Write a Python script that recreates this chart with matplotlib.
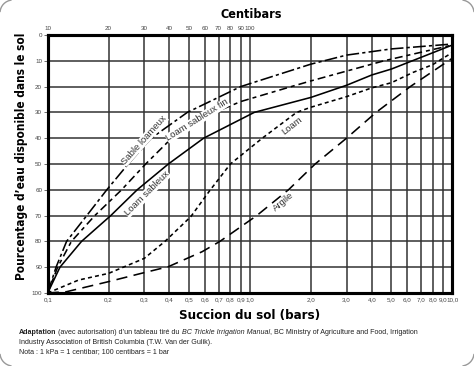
import matplotlib.pyplot as plt
from matplotlib.patches import Arc
from matplotlib.ticker import NullLocator

plt.rcParams['font.family'] = ['Liberation Sans', 'DejaVu Sans']

# Curves: soil suction (bars) vs % available water
sable_x = [0.1, 0.11, 0.124, 0.156, 0.196, 0.25, 0.325, 0.49, 0.9, 2.0, 3.0, 5.0, 10.0]
sable_y = [100, 90, 80, 70, 60, 50, 40, 30, 20, 11.3, 7.8, 5.4, 3.5]

fin_x = [0.1, 0.112, 0.131, 0.171, 0.232, 0.305, 0.41, 0.67, 0.9, 1.6, 2.0, 3.0, 4.6, 10.0]
fin_y = [100, 90, 80, 70, 60, 50, 40, 30, 25.8, 20, 17.8, 14, 10, 3.9]

lsab_x = [0.1, 0.115, 0.147, 0.205, 0.277, 0.395, 0.59, 1.05, 2.0, 3.0, 4.0, 5.0, 10.0]
lsab_y = [100, 90, 80, 70, 60, 50, 40, 30, 24.2, 19.5, 15.5, 13.2, 3.9]

loam_x = [0.1, 0.142, 0.2, 0.3, 0.38, 0.51, 0.63, 0.8, 1.15, 1.7, 2.0, 3.0, 4.0, 5.0, 6.4, 8.0, 10.0]
loam_y = [100, 95, 92.4, 86.6, 80, 70.4, 60.5, 50, 40, 30, 28, 23.9, 20.5, 18.5, 14.5, 11.5, 6.8]

argile_x = [0.1, 0.124, 0.2, 0.29, 0.395, 0.58, 0.71, 1.08, 1.55, 2.1, 3.0, 4.2, 6.2, 10.0]
argile_y = [100, 99.5, 95.6, 92.4, 89.8, 84, 80, 70, 60, 50, 40, 30, 20, 9]

bar_ticks = [0.1, 0.2, 0.3, 0.4, 0.5, 0.6, 0.7, 0.8, 0.9, 1.0, 2.0, 3.0, 4.0, 5.0, 6.0, 7.0, 8.0, 9.0, 10.0]
bar_labels = ['0,1', '0,2', '0,3', '0,4', '0,5', '0,6', '0,7', '0,8', '0,9', '1,0',
              '2,0', '3,0', '4,0', '5,0', '6,0', '7,0', '8,0', '9,0', '10,0']
centibars = [10, 20, 30, 40, 50, 60, 70, 80, 90, 100]
pct_ticks = [0, 10, 20, 30, 40, 50, 60, 70, 80, 90, 100]

fig = plt.figure(figsize=(4.74, 3.66), dpi=100)
ax = fig.add_axes([0.1006, 0.1995, 0.8536, 0.7049])

ax.set_xscale('log')
ax.set_xlim(0.1, 10)
ax.set_ylim(100, 0)
ax.set_axisbelow(True)
ax.grid(True, color='#333333', lw=1.1)

lw = 1.15
ax.plot(sable_x, sable_y, color='black', lw=lw, linestyle=(0, (8, 2, 2, 2)))
ax.plot(fin_x, fin_y, color='black', lw=lw, linestyle=(0, (5, 2.5, 2.5, 2.5)))
ax.plot(lsab_x, lsab_y, color='black', lw=lw)
ax.plot(loam_x, loam_y, color='black', lw=lw, linestyle=(0, (2.5, 2)))
ax.plot(argile_x, argile_y, color='black', lw=lw, linestyle=(0, (7, 4)))

ax.set_xticks(bar_ticks)
ax.set_xticklabels(bar_labels)
ax.xaxis.set_minor_locator(NullLocator())
ax.set_yticks(pct_ticks)
ax.tick_params(axis='x', length=0, labelsize=4.5, labelcolor='#444444', pad=3)
ax.tick_params(axis='y', length=3, width=0.6, color='#555555', labelsize=4.5, labelcolor='#444444', pad=1)
for s in ax.spines.values():
    s.set_linewidth(2.2)

top = ax.twiny()
top.set_xscale('log')
top.set_xlim(10, 1000)
top.set_xticks(centibars)
top.set_xticklabels([str(c) for c in centibars])
top.xaxis.set_minor_locator(NullLocator())
top.tick_params(axis='x', length=0, labelsize=4.5, labelcolor='#444444', pad=3)
for s in top.spines.values():
    s.set_linewidth(2.2)

# curve names
lab = dict(fontsize=6.8, color='#333333', ha='center', va='center', rotation_mode='anchor',
           bbox=dict(facecolor='white', edgecolor='none', pad=0.3))
ax.text(0.30, 40.7, 'Sable loameux', rotation=48, **lab)
ax.text(0.55, 33, 'Loam sableux fin', rotation=32, **lab)
ax.text(0.31, 61.5, 'Loam sableux', rotation=45, **lab)
ax.text(1.62, 35.3, 'Loam', rotation=38, **lab)
ax.text(1.46, 64.7, 'Argile', rotation=40, **lab)

bold = dict(ha='center', va='center', fontweight='bold', family='DejaVu Sans', fontstretch='condensed')
fig.text(251 / 474, 1 - 14 / 366, 'Centibars', fontsize=9, **bold)
fig.text(250 / 474, 1 - 315 / 366, 'Succion du sol (bars)', fontsize=9.5, **bold)
fig.text(22 / 474, 1 - 156 / 366, 'Pourcentage d’eau disponible dans le sol', rotation=90, fontsize=8.5, **bold)

# caption, pieces with different styles chained together
cap = dict(fontsize=5.1, color='#222222', va='bottom', ha='left')
t = fig.text(19 / 474, 1 - 336 / 366, 'Adaptation', fontweight='bold', **cap)
pieces = [(' (avec autorisation) d’un tableau tiré du ', 'normal'),
          ('BC Trickle Irrigation Manual', 'italic'),
          (', BC Ministry of Agriculture and Food, Irrigation', 'normal')]
for s, st in pieces:
    t = ax.annotate(s, xy=(1, 0), xycoords=t, style=st, annotation_clip=False, **cap)
fig.text(19 / 474, 1 - 345.5 / 366, 'Industry Association of British Columbia (T.W. Van der Gulik).', **cap)
fig.text(19 / 474, 1 - 355 / 366, 'Nota : 1 kPa = 1 centibar; 100 centibars = 1 bar', **cap)

# rounded corner marks
r = 13
for cx, cy, a1, a2 in [(r, 366 - r, 95, 175), (474 - r, 366 - r, 5, 85),
                       (r, r, 185, 265), (474 - r, r, 275, 355)]:
    fig.add_artist(Arc((cx / 474, cy / 366), 2 * r / 474, 2 * r / 366, theta1=a1, theta2=a2,
                       transform=fig.transFigure, color='#999999', lw=1))

fig.savefig('out.png', dpi=100)
